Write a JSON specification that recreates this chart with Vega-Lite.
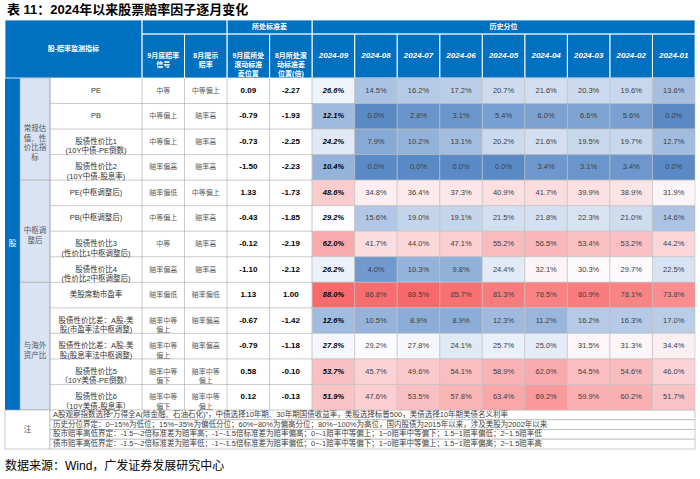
{
  "$schema": "https://vega.github.io/schema/vega-lite/v6.json",
  "width": 700,
  "height": 479,
  "autosize": {"type": "none"},
  "padding": 0,
  "background": "white",
  "config": {
    "view": {"stroke": null},
    "axis": {"disable": true},
    "legend": {"disable": true},
    "text": {"font": "Liberation Sans, Noto Sans CJK SC"}
  },
  "datasets": {
    "rows": [
      {"row": 1, "name": "PE", "sig9": "中等", "sig8": "中等偏上", "sd9": "0.09", "sd8": "-2.27", "2024-09": 0.266, "2024-08": 0.145, "2024-07": 0.162, "2024-06": 0.172, "2024-05": 0.207, "2024-04": 0.216, "2024-03": 0.203, "2024-02": 0.196, "2024-01": 0.136},
      {"row": 2, "name": "PB", "sig9": "中等偏上", "sig8": "赔率高", "sd9": "-0.79", "sd8": "-1.93", "2024-09": 0.121, "2024-08": 0.0, "2024-07": 0.028, "2024-06": 0.031, "2024-05": 0.054, "2024-04": 0.06, "2024-03": 0.066, "2024-02": 0.056, "2024-01": 0.0},
      {"row": 3, "name": "股债性价比1\n(10Y中债-PE倒数)", "sig9": "中等偏上", "sig8": "赔率高", "sd9": "-0.73", "sd8": "-2.25", "2024-09": 0.242, "2024-08": 0.079, "2024-07": 0.102, "2024-06": 0.131, "2024-05": 0.202, "2024-04": 0.216, "2024-03": 0.195, "2024-02": 0.197, "2024-01": 0.127},
      {"row": 4, "name": "股债性价比2\n(10Y中债-股息率)", "sig9": "赔率偏高", "sig8": "赔率高", "sd9": "-1.50", "sd8": "-2.23", "2024-09": 0.104, "2024-08": 0.0, "2024-07": 0.0, "2024-06": 0.0, "2024-05": 0.0, "2024-04": 0.034, "2024-03": 0.031, "2024-02": 0.034, "2024-01": 0.0},
      {"row": 5, "name": "PE(中枢调整后)", "sig9": "赔率偏低", "sig8": "中等偏上", "sd9": "1.33", "sd8": "-1.73", "2024-09": 0.486, "2024-08": 0.348, "2024-07": 0.364, "2024-06": 0.373, "2024-05": 0.409, "2024-04": 0.417, "2024-03": 0.399, "2024-02": 0.389, "2024-01": 0.319},
      {"row": 6, "name": "PB(中枢调整后)", "sig9": "中等偏上", "sig8": "赔率高", "sd9": "-0.43", "sd8": "-1.85", "2024-09": 0.292, "2024-08": 0.156, "2024-07": 0.19, "2024-06": 0.191, "2024-05": 0.215, "2024-04": 0.218, "2024-03": 0.223, "2024-02": 0.21, "2024-01": 0.146},
      {"row": 7, "name": "股债性价比3\n(性价比1中枢调整后)", "sig9": "中等", "sig8": "赔率高", "sd9": "-0.12", "sd8": "-2.19", "2024-09": 0.62, "2024-08": 0.417, "2024-07": 0.44, "2024-06": 0.471, "2024-05": 0.552, "2024-04": 0.565, "2024-03": 0.534, "2024-02": 0.532, "2024-01": 0.442},
      {"row": 8, "name": "股债性价比4\n(性价比2中枢调整后)", "sig9": "赔率偏高", "sig8": "赔率高", "sd9": "-1.10", "sd8": "-2.12", "2024-09": 0.262, "2024-08": 0.04, "2024-07": 0.103, "2024-06": 0.098, "2024-05": 0.244, "2024-04": 0.321, "2024-03": 0.303, "2024-02": 0.297, "2024-01": 0.225},
      {"row": 9, "name": "美股席勒市盈率", "sig9": "赔率偏低", "sig8": "赔率偏低", "sd9": "1.13", "sd8": "1.00", "2024-09": 0.88, "2024-08": 0.868, "2024-07": 0.885, "2024-06": 0.857, "2024-05": 0.813, "2024-04": 0.785, "2024-03": 0.809, "2024-02": 0.781, "2024-01": 0.738},
      {"row": 10, "name": "股债性价比差：A股-美\n股(市盈率法中枢调整)", "sig9": "赔率中等\n偏上", "sig8": "赔率偏高", "sd9": "-0.67", "sd8": "-1.42", "2024-09": 0.126, "2024-08": 0.105, "2024-07": 0.089, "2024-06": 0.089, "2024-05": 0.123, "2024-04": 0.112, "2024-03": 0.162, "2024-02": 0.163, "2024-01": 0.17},
      {"row": 11, "name": "股债性价比差：A股-美\n股(股息率法中枢调整)", "sig9": "赔率中等\n偏上", "sig8": "赔率偏高", "sd9": "-0.79", "sd8": "-1.18", "2024-09": 0.278, "2024-08": 0.292, "2024-07": 0.278, "2024-06": 0.241, "2024-05": 0.257, "2024-04": 0.25, "2024-03": 0.315, "2024-02": 0.313, "2024-01": 0.344},
      {"row": 12, "name": "股债性价比5\n（10Y美债-PE倒数）", "sig9": "赔率中等\n偏下", "sig8": "赔率中等\n偏上", "sd9": "0.58", "sd8": "-0.10", "2024-09": 0.537, "2024-08": 0.457, "2024-07": 0.496, "2024-06": 0.541, "2024-05": 0.589, "2024-04": 0.62, "2024-03": 0.545, "2024-02": 0.546, "2024-01": 0.46},
      {"row": 13, "name": "股债性价比6\n（10Y美债-股息率）", "sig9": "赔率中等\n偏下", "sig8": "赔率中等\n偏上", "sd9": "0.12", "sd8": "-0.13", "2024-09": 0.519, "2024-08": 0.476, "2024-07": 0.535, "2024-06": 0.578, "2024-05": 0.634, "2024-04": 0.692, "2024-03": 0.599, "2024-02": 0.602, "2024-01": 0.517}
    ],
    "blueBlocks": [
      {"c0": -0.5, "c1": 15.5, "r0": -2, "r1": 0.5},
      {"c0": -0.5, "c1": 0.5, "r0": 0.5, "r1": 13.5}
    ],
    "hdrCells": [
      {"c0": -0.5, "c1": 2.5, "r0": -2, "r1": 0.5},
      {"c0": 2.5, "c1": 4.5, "r0": -2, "r1": -1},
      {"c0": 4.5, "c1": 6.5, "r0": -2, "r1": -1},
      {"c0": 6.5, "c1": 15.5, "r0": -2, "r1": -1},
      {"c0": 2.5, "c1": 3.5, "r0": -1, "r1": 0.5},
      {"c0": 3.5, "c1": 4.5, "r0": -1, "r1": 0.5},
      {"c0": 4.5, "c1": 5.5, "r0": -1, "r1": 0.5},
      {"c0": 5.5, "c1": 6.5, "r0": -1, "r1": 0.5},
      {"c0": 6.5, "c1": 7.5, "r0": -1, "r1": 0.5},
      {"c0": 7.5, "c1": 8.5, "r0": -1, "r1": 0.5},
      {"c0": 8.5, "c1": 9.5, "r0": -1, "r1": 0.5},
      {"c0": 9.5, "c1": 10.5, "r0": -1, "r1": 0.5},
      {"c0": 10.5, "c1": 11.5, "r0": -1, "r1": 0.5},
      {"c0": 11.5, "c1": 12.5, "r0": -1, "r1": 0.5},
      {"c0": 12.5, "c1": 13.5, "r0": -1, "r1": 0.5},
      {"c0": 13.5, "c1": 14.5, "r0": -1, "r1": 0.5},
      {"c0": 14.5, "c1": 15.5, "r0": -1, "r1": 0.5}
    ],
    "catBlocks": [
      {"c0": 0.5, "c1": 1.5, "r0": 0.5, "r1": 4.5},
      {"c0": 0.5, "c1": 1.5, "r0": 4.5, "r1": 8.5},
      {"c0": 0.5, "c1": 1.5, "r0": 8.5, "r1": 13.5}
    ],
    "noteCells": [
      {"c0": -0.5, "c1": 1.5, "r0": 13.5, "r1": 17.5},
      {"c0": 1.5, "c1": 15.5, "r0": 13.5, "r1": 14.5},
      {"c0": 1.5, "c1": 15.5, "r0": 14.5, "r1": 15.5},
      {"c0": 1.5, "c1": 15.5, "r0": 15.5, "r1": 16.5},
      {"c0": 1.5, "c1": 15.5, "r0": 16.5, "r1": 17.5}
    ],
    "hlines": [
      {"y": 1.5}, {"y": 2.5}, {"y": 3.5}, {"y": 4.5}, {"y": 5.5}, {"y": 6.5}, {"y": 7.5},
      {"y": 8.5}, {"y": 9.5}, {"y": 10.5}, {"y": 11.5}, {"y": 12.5}
    ],
    "vlines": [
      {"x": 1.5}, {"x": 2.5}, {"x": 3.5}, {"x": 4.5}, {"x": 5.5}, {"x": 6.5}
    ],
    "hdrText": [
      {"x": 1.755, "y": -0.489, "t": "股-赔率监测指标"},
      {"x": 5.5, "y": -1.5, "t": "所处标准差"},
      {"x": 11, "y": -1.5, "t": "历史分位"},
      {"x": 3, "y": -0.25, "t": "9月底赔率\n信号"},
      {"x": 4, "y": -0.25, "t": "8月提示\n赔率"},
      {"x": 5, "y": -0.25, "t": "9月底所处\n滚动标准\n差位置\n(倍)"},
      {"x": 6, "y": -0.25, "t": "8月所处滚\n动标准差\n位置(倍)"}
    ],
    "monthText": [
      {"x": 7, "t": "2024-09"}, {"x": 8, "t": "2024-08"}, {"x": 9, "t": "2024-07"},
      {"x": 10, "t": "2024-06"}, {"x": 11, "t": "2024-05"}, {"x": 12, "t": "2024-04"},
      {"x": 13, "t": "2024-03"}, {"x": 14, "t": "2024-02"}, {"x": 15, "t": "2024-01"}
    ],
    "catText": [
      {"x": 1, "y": 2.5, "t": "常规估\n值、性\n价比指\n标"},
      {"x": 1, "y": 6.5, "t": "中枢调\n整后"},
      {"x": 1, "y": 11, "t": "与海外\n资产比"},
      {"x": 0.75, "y": 15.5, "t": "注"}
    ],
    "guText": [{"x": 0, "y": 7, "t": "股"}],
    "notes": [
      {"y": 14, "t": "A股观察指数选择“万得全A(除金融、石油石化)”，中债选择10年期、30年期国债收益率，美股选择标普500，美债选择10年期美债名义利率"},
      {"y": 15, "t": "历史分位界定：0~15%为低位；15%~35%为偏低分位；60%~80%为偏高分位；80%~100%为高位，国内股债为2015年以来，涉及美股为2002年以来"},
      {"y": 16, "t": "股市赔率高低界定：-1.5~-2倍标准差为赔率高；-1~-1.5倍标准差为赔率偏高；0~-1赔率中等偏上；1~0赔率中等偏下；1.5~1赔率偏低；2~1.5赔率低"},
      {"y": 17, "t": "债市赔率高低界定：-1.5~-2倍标准差为赔率低；-1~-1.5倍标准差为赔率偏低；0~-1赔率中等偏下；1~0赔率中等偏上；1.5~1赔率偏高；2~1.5赔率高"}
    ],
    "titleText": [{"x": -0.37, "y": -3, "t": "表 11：2024年以来股票赔率因子逐月变化"}],
    "footText": [{"x": -0.5, "y": 18.5, "t": "数据来源：Wind，广发证券发展研究中心"}]
  },
  "layer": [
    {
      "layer": [
        {
          "data": {"name": "blueBlocks"},
          "mark": {"type": "rect", "fill": "#0070C0", "stroke": null},
          "encoding": {
            "x": {"field": "c0", "type": "quantitative", "axis": null, "scale": {"domain": [-0.5, 0.5, 1.5, 2.5, 15.5], "range": [5, 20, 50, 142, 695], "zero": false, "nice": false}},
            "x2": {"field": "c1"},
            "y": {"field": "r0", "type": "quantitative", "axis": null, "scale": {"domain": [-3, -2, -1, 0.5, 13.5, 17.5, 18.5], "range": [9.5, 20, 34, 78, 410, 449, 466], "zero": false, "nice": false}},
            "y2": {"field": "r1"}
          }
        },
        {
          "data": {"name": "hdrCells"},
          "mark": {"type": "rect", "fill": null, "stroke": "#FFFFFF", "strokeWidth": 0.8},
          "encoding": {
            "x": {"field": "c0", "type": "quantitative", "axis": null},
            "x2": {"field": "c1"},
            "y": {"field": "r0", "type": "quantitative", "axis": null},
            "y2": {"field": "r1"}
          }
        },
        {
          "data": {"name": "catBlocks"},
          "mark": {"type": "rect", "fill": "#DAE3F3", "stroke": "#A6A6A6", "strokeWidth": 0.6},
          "encoding": {
            "x": {"field": "c0", "type": "quantitative", "axis": null},
            "x2": {"field": "c1"},
            "y": {"field": "r0", "type": "quantitative", "axis": null},
            "y2": {"field": "r1"}
          }
        },
        {
          "data": {"name": "noteCells"},
          "mark": {"type": "rect", "fill": "#FFFFFF", "stroke": "#A6A6A6", "strokeWidth": 0.6},
          "encoding": {
            "x": {"field": "c0", "type": "quantitative", "axis": null},
            "x2": {"field": "c1"},
            "y": {"field": "r0", "type": "quantitative", "axis": null},
            "y2": {"field": "r1"}
          }
        },
        {
          "data": {"name": "hlines"},
          "mark": {"type": "rule", "stroke": "#A6A6A6", "strokeWidth": 0.6},
          "encoding": {
            "x": {"datum": 1.5, "type": "quantitative", "axis": null},
            "x2": {"datum": 6.5},
            "y": {"field": "y", "type": "quantitative", "axis": null}
          }
        },
        {
          "data": {"name": "vlines"},
          "mark": {"type": "rule", "stroke": "#A6A6A6", "strokeWidth": 0.6},
          "encoding": {
            "x": {"field": "x", "type": "quantitative", "axis": null},
            "y": {"datum": 0.5, "type": "quantitative", "axis": null},
            "y2": {"datum": 13.5}
          }
        },
        {
          "data": {"name": "titleText"},
          "mark": {"type": "text", "align": "left", "baseline": "middle", "fontSize": 13, "fontWeight": "bold", "color": "#000000"},
          "encoding": {
            "x": {"field": "x", "type": "quantitative", "axis": null},
            "y": {"field": "y", "type": "quantitative", "axis": null},
            "text": {"field": "t"}
          }
        },
        {
          "data": {"name": "footText"},
          "mark": {"type": "text", "align": "left", "baseline": "middle", "fontSize": 12, "color": "#000000"},
          "encoding": {
            "x": {"field": "x", "type": "quantitative", "axis": null},
            "y": {"field": "y", "type": "quantitative", "axis": null},
            "text": {"field": "t"}
          }
        },
        {
          "data": {"name": "hdrText"},
          "mark": {"type": "text", "align": "center", "baseline": "middle", "fontSize": 7, "fontWeight": "bold", "color": "#FFFFFF", "lineBreak": "\n", "lineHeight": 9},
          "encoding": {
            "x": {"field": "x", "type": "quantitative", "axis": null},
            "y": {"field": "y", "type": "quantitative", "axis": null},
            "text": {"field": "t"}
          }
        },
        {
          "data": {"name": "monthText"},
          "mark": {"type": "text", "align": "center", "baseline": "middle", "fontSize": 8, "fontWeight": "bold", "fontStyle": "italic", "color": "#FFFFFF"},
          "encoding": {
            "x": {"field": "x", "type": "quantitative", "axis": null},
            "y": {"datum": -0.25, "type": "quantitative", "axis": null},
            "text": {"field": "t"}
          }
        },
        {
          "data": {"name": "catText"},
          "mark": {"type": "text", "align": "center", "baseline": "middle", "fontSize": 7.5, "color": "#595959", "lineBreak": "\n", "lineHeight": 9.5},
          "encoding": {
            "x": {"field": "x", "type": "quantitative", "axis": null},
            "y": {"field": "y", "type": "quantitative", "axis": null},
            "text": {"field": "t"}
          }
        },
        {
          "data": {"name": "guText"},
          "mark": {"type": "text", "align": "center", "baseline": "middle", "fontSize": 8, "color": "#FFFFFF"},
          "encoding": {
            "x": {"field": "x", "type": "quantitative", "axis": null},
            "y": {"field": "y", "type": "quantitative", "axis": null},
            "text": {"field": "t"}
          }
        },
        {
          "data": {"name": "notes"},
          "mark": {"type": "text", "align": "left", "baseline": "middle", "fontSize": 7.5, "color": "#404040"},
          "encoding": {
            "x": {"datum": 1.533, "type": "quantitative", "axis": null},
            "y": {"field": "y", "type": "quantitative", "axis": null},
            "text": {"field": "t"}
          }
        },
        {
          "data": {"name": "rows"},
          "mark": {"type": "text", "align": "center", "baseline": "middle", "fontSize": 7.5, "color": "#333333", "lineBreak": "\n", "lineHeight": 9.5},
          "encoding": {
            "x": {"datum": 2, "type": "quantitative", "axis": null},
            "y": {"field": "row", "type": "quantitative", "axis": null},
            "text": {"field": "name"}
          }
        },
        {
          "data": {"name": "rows"},
          "mark": {"type": "text", "align": "center", "baseline": "middle", "fontSize": 7, "color": "#595959", "lineBreak": "\n", "lineHeight": 9.5},
          "encoding": {
            "x": {"datum": 3, "type": "quantitative", "axis": null},
            "y": {"field": "row", "type": "quantitative", "axis": null},
            "text": {"field": "sig9"}
          }
        },
        {
          "data": {"name": "rows"},
          "mark": {"type": "text", "align": "center", "baseline": "middle", "fontSize": 7, "color": "#595959", "lineBreak": "\n", "lineHeight": 9.5},
          "encoding": {
            "x": {"datum": 4, "type": "quantitative", "axis": null},
            "y": {"field": "row", "type": "quantitative", "axis": null},
            "text": {"field": "sig8"}
          }
        },
        {
          "data": {"name": "rows"},
          "mark": {"type": "text", "align": "center", "baseline": "middle", "fontSize": 8, "fontWeight": "bold", "color": "#000000"},
          "encoding": {
            "x": {"datum": 5, "type": "quantitative", "axis": null},
            "y": {"field": "row", "type": "quantitative", "axis": null},
            "text": {"field": "sd9"}
          }
        },
        {
          "data": {"name": "rows"},
          "mark": {"type": "text", "align": "center", "baseline": "middle", "fontSize": 8, "fontWeight": "bold", "color": "#000000"},
          "encoding": {
            "x": {"datum": 6, "type": "quantitative", "axis": null},
            "y": {"field": "row", "type": "quantitative", "axis": null},
            "text": {"field": "sd8"}
          }
        }
      ]
    },
    {
      "data": {"name": "rows"},
      "transform": [
        {"fold": ["2024-09", "2024-08", "2024-07", "2024-06", "2024-05", "2024-04", "2024-03", "2024-02", "2024-01"], "as": ["month", "pct"]}
      ],
      "encoding": {
        "x": {"field": "month", "type": "ordinal", "axis": null, "scale": {"type": "band", "domain": ["2024-09", "2024-08", "2024-07", "2024-06", "2024-05", "2024-04", "2024-03", "2024-02", "2024-01"], "range": [312.15, 695], "paddingInner": 0, "paddingOuter": 0}},
        "y": {"field": "row", "type": "ordinal", "axis": null, "scale": {"type": "band", "domain": [1, 2, 3, 4, 5, 6, 7, 8, 9, 10, 11, 12, 13], "range": [78, 410], "paddingInner": 0, "paddingOuter": 0}}
      },
      "layer": [
        {
          "mark": {"type": "rect", "stroke": "#BFBFBF", "strokeWidth": 0.6},
          "encoding": {
            "color": {"field": "pct", "type": "quantitative", "legend": null, "scale": {"domain": [0, 0.29, 0.885], "range": ["#5A8AC6", "#FCFCFF", "#F8696B"], "interpolate": "rgb"}}
          }
        },
        {
          "transform": [{"filter": {"field": "month", "equal": "2024-09"}}],
          "mark": {"type": "text", "align": "center", "baseline": "middle", "fontSize": 7.5, "fontWeight": "bold", "fontStyle": "italic", "color": "#000000"},
          "encoding": {"text": {"field": "pct", "type": "quantitative", "format": ".1%"}}
        },
        {
          "transform": [{"filter": {"not": {"field": "month", "equal": "2024-09"}}}],
          "mark": {"type": "text", "align": "center", "baseline": "middle", "fontSize": 7.5, "color": "#404040"},
          "encoding": {"text": {"field": "pct", "type": "quantitative", "format": ".1%"}}
        }
      ]
    }
  ],
  "resolve": {"scale": {"x": "independent", "y": "independent"}}
}
